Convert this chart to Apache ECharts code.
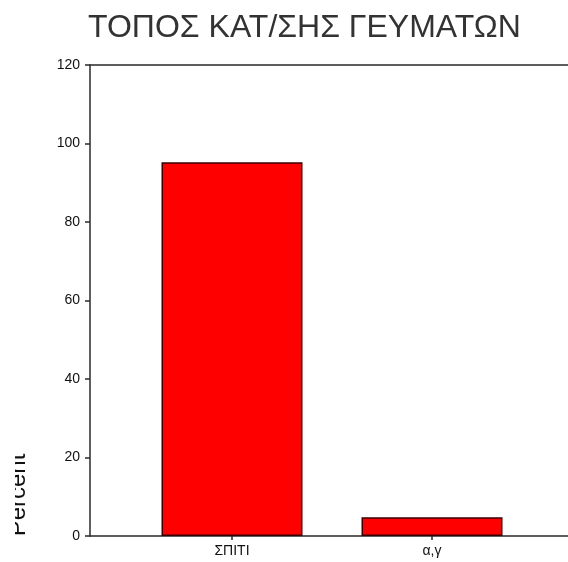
<!DOCTYPE html>
<html>
<head>
<meta charset="utf-8">
<script src="https://cdn.jsdelivr.net/npm/echarts@6/dist/echarts.min.js"></script>
<style>
  html, body { margin: 0; padding: 0; background: #fff; }
  #chart { width: 568px; height: 562px; }
</style>
</head>
<body>
<div id="chart"></div>
<script>
// Place of meals: percentage of respondents per answer
const chartTitle = 'ΤΟΠΟΣ ΚΑΤ/ΣΗΣ ΓΕΥΜΑΤΩΝ';
const categories = ['ΣΠΙΤΙ', 'α,γ'];
const percents = [95.2, 4.8];
const yTicks = [0, 20, 40, 60, 80, 100, 120];
const yAxisName = 'Percent';

// Bars sit at positions 1..n on a value axis so the outer gaps can differ from the spacing
const positions = categories.map((c, i) => i + 1);
const barData = positions.map((p, i) => [p, percents[i]]);

const chart = echarts.init(document.getElementById('chart'), null, { renderer: 'canvas' });

const lineColor = '#2a2a2a';
const fontFamily = 'Liberation Sans, Arial, sans-serif';

chart.setOption({
  animation: false,
  backgroundColor: '#ffffff',
  title: {
    text: chartTitle,
    left: 83,
    top: 7,
    textStyle: {
      fontFamily: fontFamily,
      fontSize: 32,
      fontWeight: 'normal',
      color: '#333'
    }
  },
  grid: {
    left: 90,
    right: 0,
    top: 65,
    bottom: 26
  },
  xAxis: [
    {
      type: 'value',
      min: 0.29,
      max: 2.68,
      splitLine: { show: false },
      axisLine: { show: true, lineStyle: { color: lineColor, width: 1.5 } },
      axisTick: {
        show: true,
        customValues: positions,
        length: 4,
        lineStyle: { color: lineColor, width: 1.5 }
      },
      axisLabel: {
        show: true,
        customValues: positions,
        margin: 8,
        formatter: v => categories[Math.round(v) - 1] || '',
        fontFamily: fontFamily,
        fontSize: 14,
        color: '#111'
      }
    },
    {
      // top frame line of the plot
      type: 'value',
      position: 'top',
      min: 0.29,
      max: 2.68,
      splitLine: { show: false },
      axisLine: { show: true, lineStyle: { color: lineColor, width: 1.5 } },
      axisTick: { show: false },
      axisLabel: { show: false }
    }
  ],
  yAxis: {
    type: 'value',
    min: yTicks[0],
    max: yTicks[yTicks.length - 1],
    interval: yTicks[1] - yTicks[0],
    splitLine: { show: false },
    axisLine: { show: true, lineStyle: { color: lineColor, width: 1.5 } },
    axisTick: { show: true, length: 5, lineStyle: { color: lineColor, width: 1.5 } },
    axisLabel: {
      margin: 10,
      fontFamily: fontFamily,
      fontSize: 14,
      color: '#111',
      padding: [0, 0, 8, 0]
    }
  },
  series: [{
    type: 'bar',
    xAxisIndex: 0,
    data: barData,
    barWidth: 141,
    itemStyle: {
      color: '#ff0000',
      borderColor: '#3a0000',
      borderWidth: 1.5
    }
  }],
  graphic: [
    {
      type: 'text',
      x: 30,
      y: 495,
      rotation: Math.PI / 2,
      z: 10,
      style: {
        text: yAxisName,
        fontFamily: fontFamily,
        fontSize: 24,
        fill: '#111',
        align: 'center',
        verticalAlign: 'bottom'
      }
    },
    {
      // the axis title is cut off along its left side
      type: 'rect',
      z: 20,
      shape: { x: 0, y: 430, width: 15, height: 130 },
      style: { fill: '#ffffff' }
    }
  ]
});
</script>
</body>
</html>
